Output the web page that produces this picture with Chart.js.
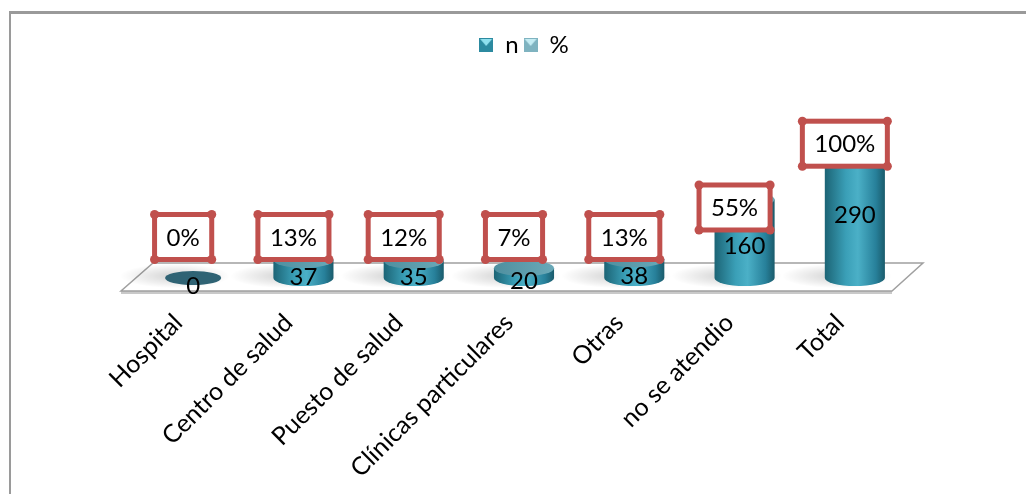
<!DOCTYPE html>
<html>
<head>
<meta charset="utf-8">
<script src="https://cdn.jsdelivr.net/npm/chart.js@4.4.1/dist/chart.umd.min.js"></script>
<style>
  html, body { margin: 0; padding: 0; background: #fff; overflow: hidden; }
  #frame { position: absolute; left: 9px; top: 11px; width: 1040px; height: 500px;
           border-top: 3px solid #9a9a9a; border-left: 2px solid #9a9a9a; }
  #box { position: absolute; left: 10px; top: 12px; width: 1016px; height: 482px; }
</style>
</head>
<body>
<div id="frame"></div>
<div id="box"><canvas id="mycanvas"></canvas></div>
<script>
// data
var categories = ["Hospital", "Centro de salud", "Puesto de salud", "Clínicas particulares", "Otras", "no se atendio", "Total"];
var nValues = [0, 37, 35, 20, 38, 160, 290];
var pctValues = [0.00, 0.13, 0.12, 0.07, 0.13, 0.55, 1.00];

/* legend icon: teal square with a lighter triangle on top */
function makeIcon(dark, light) {
  var c = document.createElement('canvas');
  c.width = 14; c.height = 14;
  var g = c.getContext('2d');
  g.fillStyle = dark;
  g.fillRect(0, 0, 14, 14);
  g.fillStyle = light;
  g.beginPath();
  g.moveTo(1, 1); g.lineTo(13, 1); g.lineTo(7, 8); g.closePath();
  g.fill();
  return c;
}

var cylinders = {
  id: 'cylinders',
  beforeDatasetsDraw: function(chart) {
    var ctx = chart.ctx, a = chart.chartArea;
    var base = chart.scales.y.getPixelForValue(0);
    var l = a.left, r = a.right;
    ctx.save();
    // floor
    ctx.beginPath();
    ctx.moveTo(l - 17, base + 13);
    ctx.lineTo(r - 18, base + 13);
    ctx.lineTo(r + 13, base - 15);
    ctx.lineTo(l + 15, base - 15);
    ctx.closePath();
    ctx.fillStyle = '#ffffff';
    ctx.fill();
    ctx.fillStyle = '#c9c9c9';
    ctx.fillRect(l - 17, base + 13, (r - 18) - (l - 17), 3);
    ctx.strokeStyle = '#a0a0a0';
    ctx.lineWidth = 1.5;
    ctx.stroke();
    // soft shadows on the floor
    var meta = chart.getDatasetMeta(0);
    meta.data.forEach(function(bar) {
      ctx.save();
      ctx.translate(bar.x - 18, base - 2);
      ctx.scale(1, 0.22);
      var rg = ctx.createRadialGradient(0, 0, 5, 0, 0, 55);
      rg.addColorStop(0, 'rgba(0,0,0,0.16)');
      rg.addColorStop(1, 'rgba(0,0,0,0)');
      ctx.fillStyle = rg;
      ctx.beginPath();
      ctx.arc(0, 0, 55, 0, Math.PI * 2);
      ctx.fill();
      ctx.restore();
    });
    ctx.restore();
  },
  afterDatasetsDraw: function(chart) {
    var ctx = chart.ctx;
    var meta = chart.getDatasetMeta(0);
    var ry = 8;
    ctx.save();
    meta.data.forEach(function(bar, i) {
      var x = bar.x, top = bar.y, base = bar.base, rx = bar.width / 2;
      if (base - top < 1) {
        ctx.fillStyle = '#2f6374';
        ctx.beginPath();
        ctx.ellipse(x, base, rx - 2, ry - 1, 0, 0, Math.PI * 2);
        ctx.fill();
        return;
      }
      var lg = ctx.createLinearGradient(x - rx, 0, x + rx, 0);
      lg.addColorStop(0, '#1c6475');
      lg.addColorStop(0.35, '#3a9fb7');
      lg.addColorStop(0.55, '#4bb0c7');
      lg.addColorStop(0.85, '#27809a');
      lg.addColorStop(1, '#1a5b6b');
      ctx.fillStyle = lg;
      ctx.beginPath();
      ctx.moveTo(x - rx, top);
      ctx.lineTo(x - rx, base);
      ctx.ellipse(x, base, rx, ry, 0, Math.PI, 0, true);
      ctx.lineTo(x + rx, top);
      ctx.closePath();
      ctx.fill();
      var tg = ctx.createLinearGradient(x - rx, 0, x + rx, 0);
      tg.addColorStop(0, '#4f8f9f');
      tg.addColorStop(1, '#6aa9b8');
      ctx.fillStyle = tg;
      ctx.beginPath();
      ctx.ellipse(x, top, rx, ry, 0, 0, Math.PI * 2);
      ctx.fill();
    });

    // n labels
    ctx.font = '24px Lato';
    ctx.fillStyle = '#000';
    ctx.textAlign = 'center';
    ctx.textBaseline = 'middle';
    meta.data.forEach(function(bar, i) {
      ctx.fillText(String(nValues[i]), bar.x, (bar.y + bar.base) / 2 + 8);
    });

    // % labels in red boxes
    meta.data.forEach(function(bar, i) {
      var txt = Math.round(pctValues[i] * 100) + '%';
      var cx = bar.x - 10;
      var cy = Math.min(bar.y + 8, 225);
      var w = ctx.measureText(txt).width + 24, h = 45;
      ctx.fillStyle = '#ffffff';
      ctx.fillRect(cx - w / 2, cy - h / 2, w, h);
      ctx.strokeStyle = '#c0504d';
      ctx.lineWidth = 5;
      ctx.strokeRect(cx - w / 2, cy - h / 2, w, h);
      ctx.fillStyle = '#c0504d';
      [[-1, -1], [1, -1], [1, 1], [-1, 1]].forEach(function(p) {
        ctx.beginPath();
        ctx.arc(cx + p[0] * w / 2, cy + p[1] * h / 2, 4.5, 0, Math.PI * 2);
        ctx.fill();
      });
      ctx.fillStyle = '#000';
      ctx.fillText(txt, cx, cy + 1);
    });
    ctx.restore();
  }
};

var ctx = document.getElementById('mycanvas');

var myChart = new Chart(ctx, {
  type: 'bar',
  data: {
    labels: categories,
    datasets: [
      {
        label: 'n',
        data: nValues,
        backgroundColor: 'rgba(0,0,0,0)',
        pointStyle: makeIcon('#2c8aa0', '#8fe0ee'),
        grouped: false,
        categoryPercentage: 1,
        barPercentage: 0.545
      },
      {
        label: '%',
        data: pctValues,
        backgroundColor: 'rgba(0,0,0,0)',
        pointStyle: makeIcon('#7fb3c0', '#c4ecf3'),
        grouped: false,
        categoryPercentage: 1,
        barPercentage: 0.545
      }
    ]
  },
  options: {
    responsive: true,
    maintainAspectRatio: false,
    animation: false,
    layout: { padding: { left: 128, right: 116, top: 16, bottom: 0 } },
    scales: {
      x: {
        grid: { display: false, drawTicks: false },
        border: { display: false },
        ticks: {
          autoSkip: false,
          minRotation: 45,
          maxRotation: 45,
          labelOffset: -15,
          padding: 30,
          color: '#000',
          font: { family: 'Lato', size: 25 }
        },
        afterFit: function(scale) { scale.height = 216; }
      },
      y: {
        display: false,
        min: 0,
        max: 430
      }
    },
    plugins: {
      legend: {
        position: 'top',
        labels: {
          usePointStyle: true,
          boxWidth: 14,
          padding: 5,
          color: '#000',
          font: { family: 'Lato', size: 24 }
        }
      },
      tooltip: { enabled: false }
    }
  },
  plugins: [cylinders]
});
</script>
</body>
</html>
